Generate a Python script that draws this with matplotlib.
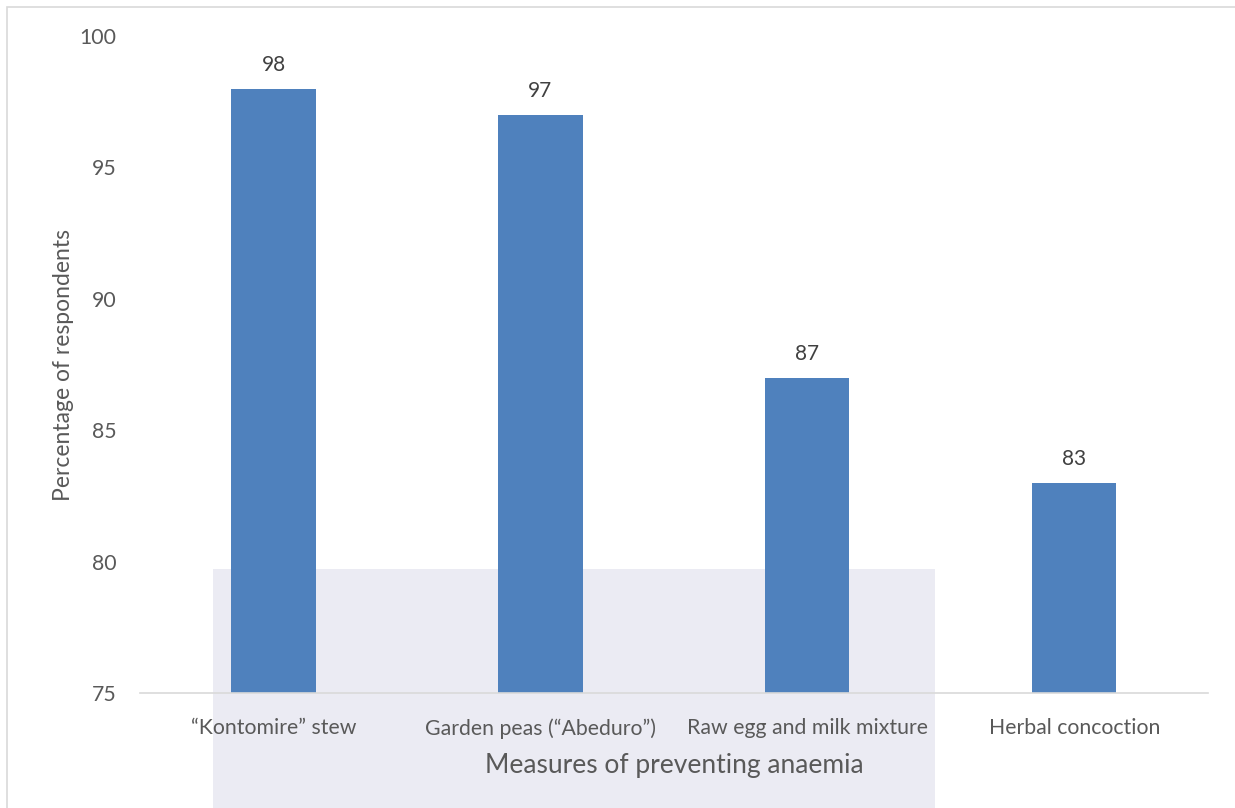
import matplotlib.pyplot as plt
from matplotlib.patches import Rectangle

categories = ['\u201cKontomire\u201d stew', 'Garden peas (\u201cAbeduro\u201d)',
              'Raw egg and milk mixture', 'Herbal concoction']
percentages = [98, 97, 87, 83]
y_ticks = [75, 80, 85, 90, 95, 100]

bar_color = '#4F81BD'
text_color = '#595959'

plt.rcParams['font.family'] = ['Lato', 'DejaVu Sans']

fig = plt.figure(figsize=(12.35, 8.08), dpi=100)

ax = fig.add_axes([0.1134, 0.1423, 0.8646, 0.8131])
ax.set_facecolor('none')
ax.set_zorder(2)

# faint watermark block, behind the plot
fig.add_artist(Rectangle((213 / 1235, 0), (935 - 213) / 1235, (808 - 569) / 808,
                         transform=fig.transFigure, facecolor='#ebebf3',
                         edgecolor='none', zorder=-1))

x = list(range(len(categories)))
ax.bar(x, percentages, width=0.315, color=bar_color, zorder=2)

for xi, v in zip(x, percentages):
    ax.annotate(str(v), (xi, v), xytext=(0, 10), textcoords='offset points',
                ha='center', va='bottom', fontsize=15, color='#404040')

ax.set_xlim(-0.5, len(categories) - 0.5)
ax.set_ylim(75, 100)
ax.set_yticks(y_ticks)
ax.set_xticks(x)
ax.set_xticklabels(categories)
ax.tick_params(axis='both', length=0, labelsize=15.3, labelcolor=text_color)
ax.tick_params(axis='y', pad=17)
ax.tick_params(axis='x', pad=18)

for s in ['top', 'right', 'left']:
    ax.spines[s].set_visible(False)
ax.spines['bottom'].set_color('#d9d9d9')
ax.spines['bottom'].set_linewidth(1.2)

ax.set_ylabel('Percentage of respondents', fontsize=16.5, color=text_color, labelpad=4)
ax.set_xlabel('Measures of preventing anaemia', fontsize=19, color=text_color, labelpad=10)

# chart border
fig.add_artist(Rectangle((7 / 1235, -0.01), 1.0, 1 - 7 / 808 + 0.01,
                         transform=fig.transFigure, fill=False,
                         edgecolor='#d9d9d9', linewidth=1.2, zorder=3))

fig.savefig('out.png', dpi=100)
